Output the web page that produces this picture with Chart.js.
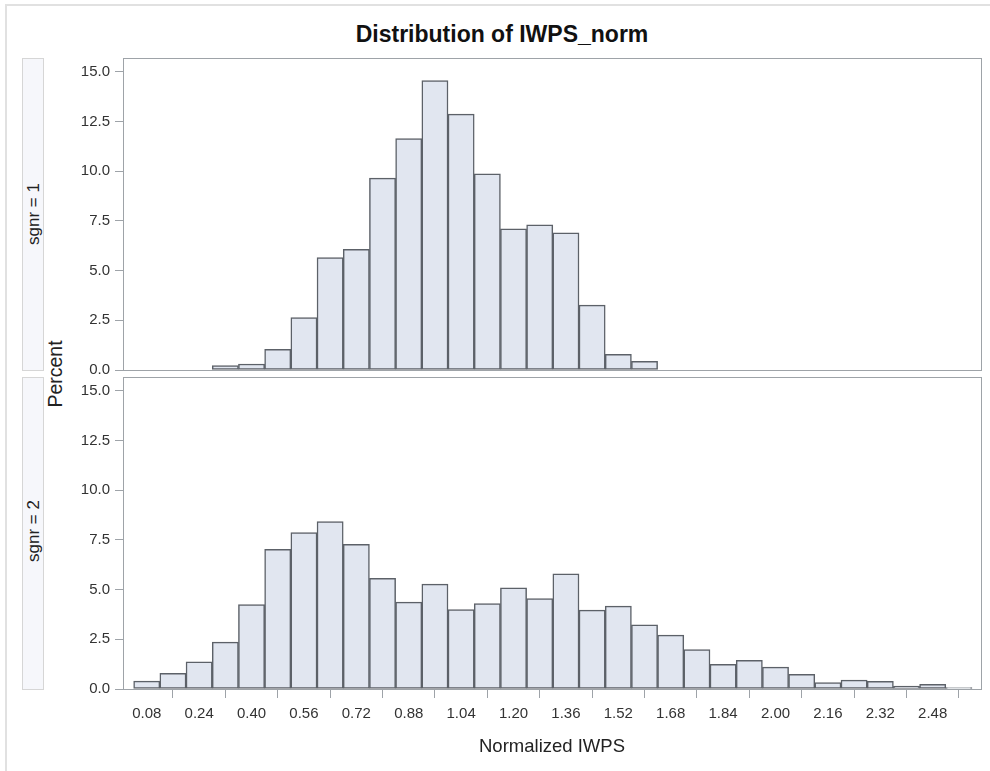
<!DOCTYPE html>
<html>
<head>
<meta charset="utf-8">
<title>Distribution of IWPS_norm</title>
<script src="https://cdn.jsdelivr.net/npm/chart.js@4.4.1/dist/chart.umd.min.js"></script>
<style>
  body { margin: 0; background: #fff; font-family: "Liberation Sans", Arial, sans-serif; }
  #wrap { position: relative; width: 990px; height: 771px; overflow: hidden; background: #fff; }
  #frame { position: absolute; left: 5px; top: 4px; width: 1100px; height: 900px; border: 2px solid #e1e1e1; }
  canvas { position: absolute; left: 0; }
  .title { position: absolute; left: 0; width: 1004px; top: 21px; text-align: center; font-weight: bold; font-size: 23px; color: #111; }
  .strip { position: absolute; left: 22px; width: 22px; background: #f6f7fb; border: 1px solid #d6d6d6; box-sizing: border-box; }
  .rot { position: absolute; transform: translate(-50%, -50%) rotate(-90deg); white-space: nowrap; color: #222; }
</style>
</head>
<body>
<div id="wrap">
  <div id="frame"></div>
  <div class="title">Distribution of IWPS_norm</div>
  <div class="strip" style="top:58px;height:313px"></div>
  <div class="strip" style="top:377px;height:313px"></div>
  <div class="rot" style="left:34px;top:214px;font-size:17px">sgnr = 1</div>
  <div class="rot" style="left:34px;top:531px;font-size:17px">sgnr = 2</div>
  <div class="rot" style="left:55px;top:374px;font-size:19.5px">Percent</div>
  <canvas id="top" width="990" height="385" style="top:0"></canvas>
  <canvas id="bottom" width="990" height="409" style="top:362px"></canvas>
</div>
<script>
// bin midpoints (Normalized IWPS)
const bins = [0.08, 0.16, 0.24, 0.32, 0.40, 0.48, 0.56, 0.64, 0.72, 0.80, 0.88, 0.96,
  1.04, 1.12, 1.20, 1.28, 1.36, 1.44, 1.52, 1.60, 1.68, 1.76, 1.84, 1.92, 2.00, 2.08,
  2.16, 2.24, 2.32, 2.40, 2.48, 2.56];

// percent per bin, sgnr = 1
const sgnr1 = [0, 0, 0, 0.22, 0.30, 1.04, 2.63, 5.65, 6.07, 9.65, 11.64, 14.55,
  12.87, 9.87, 7.10, 7.30, 6.90, 3.26, 0.79, 0.44, 0, 0, 0, 0, 0, 0,
  0, 0, 0, 0, 0, 0];

// percent per bin, sgnr = 2
const sgnr2 = [0.40, 0.79, 1.37, 2.36, 4.24, 7.03, 7.87, 8.42, 7.28, 5.57, 4.37, 5.27,
  4.00, 4.29, 5.09, 4.55, 5.79, 3.97, 4.17, 3.23, 2.71, 1.98, 1.24, 1.44, 1.10, 0.74,
  0.32, 0.45, 0.39, 0.15, 0.23, 0.07];

const xTicks = [0.08, 0.24, 0.40, 0.56, 0.72, 0.88, 1.04, 1.20, 1.36, 1.52, 1.68, 1.84, 2.00, 2.16, 2.32, 2.48];
const yTicks = [0, 2.5, 5, 7.5, 10, 12.5, 15];

const FONT = '"Liberation Sans", Arial, sans-serif';
const axisGray = '#9ea3a8';

// draws the box round each panel
const framePlugin = {
  id: 'panelFrame',
  afterDatasetsDraw(chart) {
    const a = chart.chartArea;
    const ctx = chart.ctx;
    ctx.save();
    ctx.strokeStyle = axisGray;
    ctx.lineWidth = 1;
    ctx.strokeRect(Math.round(a.left) + 0.5, Math.round(a.top) + 0.5,
      Math.round(a.right - a.left), Math.round(a.bottom - a.top));
    ctx.restore();
  }
};

function makePanel(canvasId, values, showX) {
  const xScale = {
    type: 'linear',
    min: 0.0075,
    max: 2.6275,
    display: showX,
    offset: false,
    afterBuildTicks: s => { s.ticks = xTicks.map(v => ({ value: v })); },
    ticks: {
      font: { family: FONT, size: 15 },
      color: '#333',
      padding: 7,
      maxRotation: 0,
      autoSkip: false,
      callback: v => Number(v).toFixed(2)
    },
    grid: { drawOnChartArea: false, drawTicks: true, tickLength: 9, color: axisGray },
    border: { display: false },
    title: {
      display: showX,
      text: 'Normalized IWPS',
      font: { family: FONT, size: 18.5 },
      color: '#222',
      padding: { top: 0, bottom: 13 }
    }
  };
  if (showX) xScale.afterFit = s => { s.height = 82; };

  return new Chart(document.getElementById(canvasId), {
    type: 'bar',
    data: {
      datasets: [{
        data: bins.map((b, i) => ({ x: b, y: values[i] })),
        backgroundColor: '#e1e6f0',
        borderColor: '#5c6168',
        borderWidth: 1.5,
        borderSkipped: false,
        barPercentage: 1,
        categoryPercentage: 1
      }]
    },
    options: {
      responsive: false,
      animation: false,
      layout: {
        padding: { top: showX ? 15 : 58, bottom: showX ? 0 : 15, right: 9, left: 0 }
      },
      plugins: { legend: { display: false }, tooltip: { enabled: false } },
      scales: {
        x: xScale,
        y: {
          min: 0,
          max: 15.69,
          afterBuildTicks: s => { s.ticks = yTicks.map(v => ({ value: v })); },
          afterFit: s => { s.width = 123; },
          ticks: {
            font: { family: FONT, size: 15 },
            color: '#333',
            padding: 5,
            callback: v => Number(v).toFixed(1)
          },
          grid: { drawOnChartArea: false, drawTicks: true, tickLength: 8, color: axisGray },
          border: { display: false }
        }
      }
    },
    plugins: [framePlugin]
  });
}

makePanel('top', sgnr1, false);
makePanel('bottom', sgnr2, true);
</script>
</body>
</html>
